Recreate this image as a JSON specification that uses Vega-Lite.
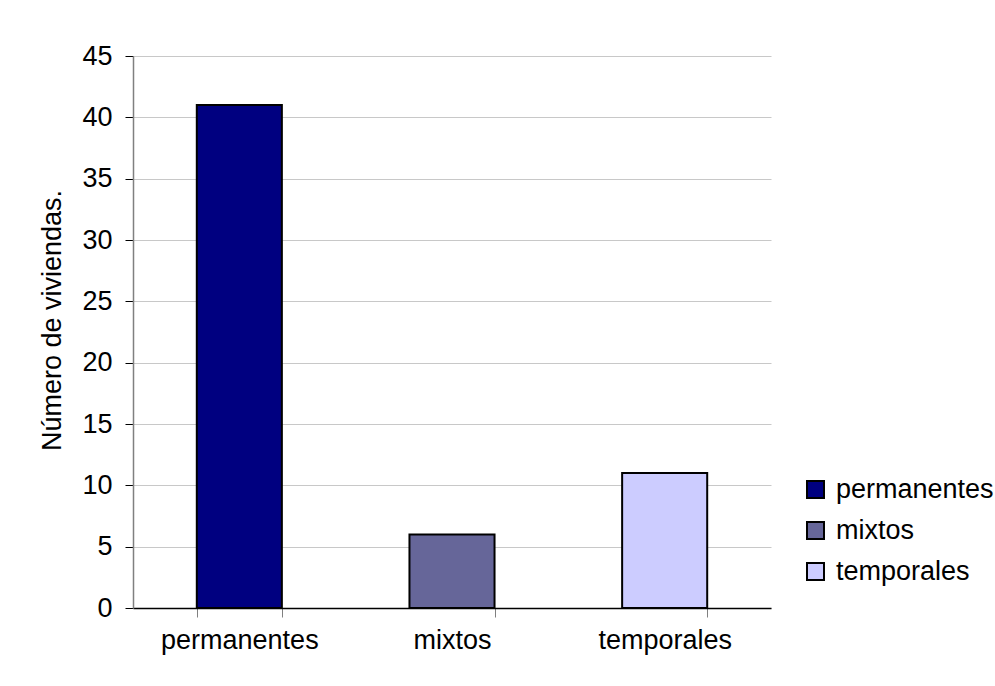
{
  "$schema": "https://vega.github.io/schema/vega-lite/v6.json",
  "width": 638,
  "height": 552,
  "autosize": {"type": "none"},
  "padding": {"left": 133, "top": 56, "right": 224, "bottom": 78},
  "background": "white",
  "config": {
    "font": "Liberation Sans",
    "view": {"stroke": null}
  },
  "data": {
    "values": [
      {"tipo": "permanentes", "viviendas": 41},
      {"tipo": "mixtos", "viviendas": 6},
      {"tipo": "temporales", "viviendas": 11}
    ]
  },
  "mark": {"type": "bar", "stroke": "black", "strokeWidth": 2},
  "encoding": {
    "x": {
      "field": "tipo",
      "type": "nominal",
      "sort": ["permanentes", "mixtos", "temporales"],
      "scale": {"paddingInner": 0.6, "paddingOuter": 0.3},
      "axis": {
        "title": null,
        "labelAngle": 0,
        "labelFontSize": 27,
        "labelColor": "black",
        "labelPadding": 10,
        "tickBand": "extent",
        "tickSize": 9,
        "tickColor": "#808080",
        "domainColor": "black",
        "domainWidth": 1.5
      }
    },
    "y": {
      "field": "viviendas",
      "type": "quantitative",
      "scale": {"domain": [0, 45]},
      "axis": {
        "title": "Número de viviendas.",
        "titleFontSize": 27,
        "titleFontWeight": "normal",
        "titleColor": "black",
        "titleAngle": -90,
        "titleAlign": "center",
        "titleBaseline": "middle",
        "titleX": -81,
        "titleY": 264,
        "values": [0, 5, 10, 15, 20, 25, 30, 35, 40, 45],
        "labelFontSize": 27,
        "labelColor": "black",
        "labelPadding": 13,
        "tickSize": 8,
        "tickColor": "black",
        "domainColor": "#808080",
        "domainWidth": 1.5,
        "grid": true,
        "gridColor": "#c8c8c8",
        "gridWidth": 1
      }
    },
    "fill": {
      "field": "tipo",
      "type": "nominal",
      "sort": ["permanentes", "mixtos", "temporales"],
      "scale": {
        "domain": ["permanentes", "mixtos", "temporales"],
        "range": ["#000080", "#666699", "#ccccff"]
      },
      "legend": {
        "title": null,
        "orient": "none",
        "legendX": 669,
        "legendY": 420,
        "padding": 0,
        "symbolType": "square",
        "symbolSize": 289,
        "symbolStrokeColor": "black",
        "symbolStrokeWidth": 2,
        "labelFontSize": 27,
        "labelColor": "black",
        "labelOffset": 7,
        "rowPadding": 13,
        "labelLimit": 300
      }
    }
  }
}
